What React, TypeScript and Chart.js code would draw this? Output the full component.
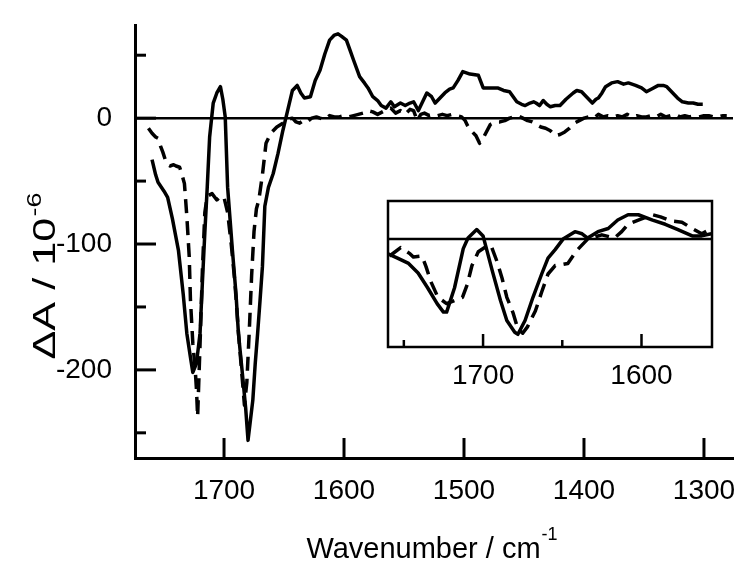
import React, { useEffect, useRef } from "react";
import { Chart, registerables } from "chart.js";
Chart.register(...registerables);

// ---------- DATA ----------
const solidWn = [1760, 1757, 1755, 1750, 1747, 1743, 1738, 1734, 1731, 1728, 1726, 1723, 1720, 1718, 1716, 1714, 1712, 1709, 1706, 1703, 1701, 1699, 1697, 1695, 1693, 1690, 1688, 1685, 1682, 1680, 1678, 1676, 1674, 1672, 1670, 1668, 1666, 1663, 1659, 1655, 1651, 1647, 1643, 1639, 1636, 1633, 1628, 1624, 1620, 1616, 1612, 1608, 1605, 1602, 1598, 1595, 1592, 1587, 1583, 1580, 1576, 1572, 1569, 1565, 1561, 1558, 1553, 1549, 1545, 1542, 1538, 1535, 1531, 1527, 1524, 1520, 1516, 1512, 1509, 1505, 1501, 1495, 1488, 1484, 1478, 1472, 1467, 1462, 1459, 1456, 1452, 1449, 1445, 1442, 1440, 1437, 1434, 1431, 1428, 1424, 1420, 1415, 1409, 1406, 1402, 1398, 1393, 1390, 1388, 1385, 1382, 1377, 1372, 1367, 1363, 1360, 1357, 1352, 1348, 1344, 1338, 1334, 1331, 1326, 1322, 1318, 1313, 1309, 1305, 1301];
const solidVal = [-33, -45, -51, -58, -63, -80, -105, -140, -171, -190, -202, -195, -171, -130, -91, -55, -15, 12, 20, 25, 15, 1, -55, -80, -105, -140, -171, -200, -230, -256, -240, -224, -195, -171, -145, -118, -70, -55, -44, -28, -10, 6, 22, 26, 20, 16, 17, 30, 38, 51, 62, 66, 67, 65, 62, 54, 46, 33, 28, 24, 17, 14, 10, 8, 13, 9, 12, 10, 12, 13, 6, 12, 20, 17, 12, 16, 20, 23, 24, 30, 37, 35, 34, 24, 24, 24, 22, 21, 17, 13, 11, 10, 12, 13, 12, 10, 14, 11, 9, 10, 10, 15, 20, 22, 21, 17, 12, 15, 16, 20, 25, 28, 29, 27, 28, 27, 26, 24, 21, 23, 26, 26, 25, 20, 16, 13, 12, 12, 11, 11];

const dashWn = [1763, 1760, 1757, 1755, 1753, 1751, 1749, 1747, 1745, 1742, 1740, 1737, 1735, 1733, 1731, 1729, 1728, 1726, 1724, 1723, 1722, 1720, 1718, 1716, 1714, 1710, 1706, 1703, 1700, 1697, 1694, 1691, 1688, 1685, 1683, 1681, 1679, 1677, 1675, 1673, 1671, 1668, 1665, 1661, 1656, 1651, 1647, 1643, 1640, 1637, 1634, 1631, 1627, 1623, 1620, 1616, 1612, 1608, 1604, 1600, 1596, 1592, 1588, 1584, 1580, 1576, 1572, 1568, 1564, 1561, 1557, 1553, 1549, 1545, 1542, 1539, 1536, 1533, 1529, 1525, 1522, 1518, 1514, 1510, 1506, 1502, 1499, 1497, 1495, 1490, 1487, 1483, 1478, 1474, 1470, 1466, 1462, 1458, 1455, 1451, 1447, 1443, 1440, 1436, 1432, 1428, 1424, 1420, 1416, 1412, 1408, 1404, 1400, 1396, 1392, 1388, 1384, 1380, 1376, 1372, 1368, 1364, 1360, 1356, 1352, 1348, 1344, 1340, 1336, 1332, 1328, 1324, 1320, 1316, 1312, 1308, 1304, 1300, 1296, 1292, 1288, 1284, 1281];
const dashVal = [-8, -12, -15, -16, -22, -27, -33, -37, -38, -37, -38, -39, -45, -52, -78, -110, -144, -179, -200, -215, -237, -180, -120, -75, -62, -60, -65, -62, -63, -75, -100, -130, -170, -205, -228, -210, -170, -125, -90, -72, -65, -45, -20, -12, -7, -4, -1, 0, -3, -4, -2, -3, 0, 1, 0, -1, 2, 1, 1, 2, 1, 2, 3, 4, 6, 5, 3, 5, 7, 8, 4, 6, 3, 7, 6, -2, 3, 4, 2, 3, 2, 3, 2, 3, 2, 1, -2, -6, -9, -14, -20, -14, -5, -3, -3, -2, 0, 1, 2, 0, -2, -3, -5, -7, -8, -10, -14, -13, -11, -8, -4, -2, 0, 1, 0, 3, 1, 2, 1, 2, 1, 3, 1, 2, 1, 1, 2, 1, 3, 1, 2, 3, 1, 2, 1, 2, 1, 2, 2, 1, 1, 2, 2];

const insetSolidWn = [1760, 1754, 1747, 1741, 1735, 1729, 1725, 1723, 1718, 1712.5, 1709.5, 1704, 1700, 1697, 1694, 1689, 1685, 1680, 1678, 1673.5, 1668.5, 1663, 1659, 1654.5, 1649.5, 1642, 1637.5, 1634, 1627.5, 1621, 1615, 1608.5, 1602, 1593, 1585, 1577, 1568, 1562, 1556];
const insetSolidVal = [-14, -18, -23, -32, -46, -61, -69, -69, -46, -9, 1, 9, 3, -14, -31, -58, -77, -88, -90, -77, -55, -33, -18, -10, 0, 7, 5, 1, 7, 10, 18, 23, 23, 18, 14, 9, 3, 3, 5];

const insetDashWn = [1759, 1752, 1746, 1744, 1738.5, 1736, 1733, 1728.5, 1723, 1718, 1713, 1710, 1707, 1703, 1699, 1695, 1691, 1688, 1685, 1681, 1678, 1675, 1672, 1667, 1663, 1659, 1654.5, 1650, 1646.5, 1641, 1634, 1625, 1617, 1612.5, 1608.5, 1600, 1593, 1588, 1581, 1574.5, 1568, 1562, 1557, 1555.5];
const insetDashVal = [-16, -8, -14, -17, -16, -26, -40, -55, -61, -58, -55, -43, -25, -12, -8, -6, -22, -37, -55, -70, -85, -89, -83, -68, -50, -33, -25, -24, -23, -11, 0, 4, 1, 7, 14, 19, 23, 21, 17, 16, 10, 5, 9, 5];

const mainXTickValues = [1700, 1600, 1500, 1400, 1300];
const mainYTickValues = [-200, -100, 0];
const insetXTickValues = [1750, 1700, 1650, 1600];
const insetXLabelValues = [1700, 1600];
const xTitle = "Wavenumber / cm";
const xTitleSup = "-1";
const yTitle = "\u0394A / 10";
const yTitleSup = "-6";

const FONT = "'Liberation Sans', Arial, Helvetica, sans-serif";

const toPts = (xs: number[], ys: number[]) => xs.map((x, i) => ({ x, y: ys[i] }));

const lineDs = (data: any, dashed: boolean) => ({
  data,
  borderColor: "#000",
  borderWidth: 3.5,
  borderDash: dashed ? [14, 8] : [],
  pointRadius: 0,
  tension: 0,
  fill: false,
  borderJoinStyle: "round" as const,
});

const mainDecor = {
  id: "mainDecor",
  beforeDatasetsDraw(chart: any) {
    const { ctx, chartArea: a, scales } = chart;
    const y0 = scales.y.getPixelForValue(0);
    ctx.save();
    ctx.strokeStyle = "#000";
    ctx.lineWidth = 2.5;
    ctx.beginPath();
    ctx.moveTo(a.left, y0);
    ctx.lineTo(a.right, y0);
    ctx.stroke();
    ctx.restore();
  },
  afterDraw(chart: any) {
    const { ctx, chartArea: a, scales } = chart;
    const { x, y } = scales;
    ctx.save();
    ctx.strokeStyle = "#000";
    ctx.lineWidth = 3;
    for (let v = Math.ceil(y.min / 50) * 50; v <= y.max; v += 50) {
      const py = y.getPixelForValue(v);
      const len = v % 100 === 0 ? 21 : 11;
      ctx.beginPath();
      ctx.moveTo(a.left, py);
      ctx.lineTo(a.left + len, py);
      ctx.stroke();
    }
    for (const v of mainXTickValues) {
      const px = x.getPixelForValue(v);
      ctx.beginPath();
      ctx.moveTo(px, a.bottom);
      ctx.lineTo(px, a.bottom - 20);
      ctx.stroke();
    }
    // x title
    ctx.fillStyle = "#000";
    ctx.textAlign = "left";
    ctx.textBaseline = "alphabetic";
    ctx.font = `29px ${FONT}`;
    const w1 = ctx.measureText(xTitle).width;
    ctx.font = `18px ${FONT}`;
    const w2 = ctx.measureText(xTitleSup).width;
    const sx = 432 - (w1 + w2 + 1) / 2;
    ctx.font = `29px ${FONT}`;
    ctx.fillText(xTitle, sx, 558);
    ctx.font = `18px ${FONT}`;
    ctx.fillText(xTitleSup, sx + w1 + 1, 540);
    // y title (rotated, slightly stretched along its length like the reference)
    ctx.save();
    ctx.translate(55, 276);
    ctx.rotate(-Math.PI / 2);
    ctx.textAlign = "left";
    ctx.textBaseline = "alphabetic";
    ctx.font = `32px ${FONT}`;
    const t1 = ctx.measureText(yTitle).width;
    ctx.font = `20px ${FONT}`;
    const t2 = ctx.measureText(yTitleSup).width;
    const total = t1 + t2 + 1;
    const stretch = Math.min(1.35, 180 / total);
    ctx.scale(stretch, 1);
    const start = -total / 2;
    ctx.font = `32px ${FONT}`;
    ctx.fillText(yTitle, start, 0);
    ctx.font = `20px ${FONT}`;
    ctx.fillText(yTitleSup, start + t1 + 1, -14);
    ctx.restore();
    ctx.restore();
  },
};

const insetDecor = {
  id: "insetDecor",
  beforeDatasetsDraw(chart: any) {
    const { ctx, chartArea: a, scales } = chart;
    const y0 = scales.y.getPixelForValue(0);
    ctx.save();
    ctx.strokeStyle = "#000";
    ctx.lineWidth = 2.5;
    ctx.beginPath();
    ctx.moveTo(a.left, y0);
    ctx.lineTo(a.right, y0);
    ctx.stroke();
    ctx.restore();
  },
  afterDraw(chart: any) {
    const { ctx, chartArea: a, scales } = chart;
    ctx.save();
    ctx.strokeStyle = "#000";
    ctx.lineWidth = 2.5;
    ctx.strokeRect(a.left, a.top, a.right - a.left, a.bottom - a.top);
    for (const v of insetXTickValues) {
      const px = scales.x.getPixelForValue(v);
      const len = v % 100 === 0 ? 13 : 7;
      ctx.beginPath();
      ctx.moveTo(px, a.bottom);
      ctx.lineTo(px, a.bottom - len);
      ctx.stroke();
    }
    ctx.restore();
  },
};

const setTicks = (vals: number[]) => (s: any) => {
  s.ticks = vals.map((v) => ({ value: v }));
};

export default function App() {
  const mainRef = useRef<HTMLCanvasElement | null>(null);
  const insetRef = useRef<HTMLCanvasElement | null>(null);

  useEffect(() => {
    Chart.defaults.font.family = FONT;
    Chart.defaults.color = "#000";
    const main = new Chart(mainRef.current as HTMLCanvasElement, {
      type: "line",
      data: {
        datasets: [
          lineDs(toPts(solidWn, solidVal), false),
          lineDs(toPts(dashWn, dashVal), true),
        ],
      },
      options: {
        animation: false,
        responsive: false,
        devicePixelRatio: 1,
        layout: { autoPadding: false, padding: { top: 25, right: 17, left: 0, bottom: 0 } },
        plugins: { legend: { display: false }, tooltip: { enabled: false } },
        scales: {
          x: {
            type: "linear",
            reverse: true,
            min: 1275.8,
            max: 1774.2,
            afterBuildTicks: setTicks(mainXTickValues),
            afterFit: (s: any) => {
              s.height = 119;
              s.paddingLeft = 0;
              s.paddingRight = 0;
            },
            grid: { display: false },
            border: { display: true, width: 3, color: "#000" },
            ticks: {
              maxRotation: 0,
              autoSkip: false,
              padding: 8,
              font: { size: 28 },
              color: "#000",
              callback: (v: any) => String(v),
            },
          },
          y: {
            type: "linear",
            min: -270,
            max: 74,
            afterBuildTicks: setTicks(mainYTickValues),
            afterFit: (s: any) => {
              s.width = 135;
              s.paddingTop = 0;
              s.paddingBottom = 0;
            },
            grid: { display: false },
            border: { display: true, width: 3, color: "#000" },
            ticks: {
              padding: 15,
              autoSkip: false,
              font: { size: 28 },
              color: "#000",
              callback: (v: any) => String(v),
            },
          },
        },
      },
      plugins: [mainDecor],
    } as any);

    const inset = new Chart(insetRef.current as HTMLCanvasElement, {
      type: "line",
      data: {
        datasets: [
          lineDs(toPts(insetSolidWn, insetSolidVal), false),
          lineDs(toPts(insetDashWn, insetDashVal), true),
        ],
      },
      options: {
        animation: false,
        responsive: false,
        devicePixelRatio: 1,
        layout: { autoPadding: false, padding: { top: 6, right: 13, left: 8, bottom: 0 } },
        plugins: { legend: { display: false }, tooltip: { enabled: false } },
        scales: {
          x: {
            type: "linear",
            reverse: true,
            min: 1555.5,
            max: 1760,
            afterBuildTicks: setTicks(insetXLabelValues),
            afterFit: (s: any) => {
              s.height = 48;
              s.paddingLeft = 0;
              s.paddingRight = 0;
            },
            grid: { display: false },
            border: { display: false },
            ticks: {
              maxRotation: 0,
              autoSkip: false,
              padding: 4,
              font: { size: 28 },
              color: "#000",
              callback: (v: any) => String(v),
            },
          },
          y: {
            type: "linear",
            display: false,
            min: -102,
            max: 36,
          },
        },
      },
      plugins: [insetDecor],
    } as any);

    return () => {
      main.destroy();
      inset.destroy();
    };
  }, []);

  return (
    <div style={{ position: "absolute", left: 0, top: 0, width: 750, height: 577, background: "#fff" }}>
      <canvas ref={mainRef} width={750} height={577} style={{ position: "absolute", left: 0, top: 0, display: "block" }} />
      <canvas ref={insetRef} width={345} height={200} style={{ position: "absolute", left: 380, top: 195, display: "block" }} />
    </div>
  );
}
